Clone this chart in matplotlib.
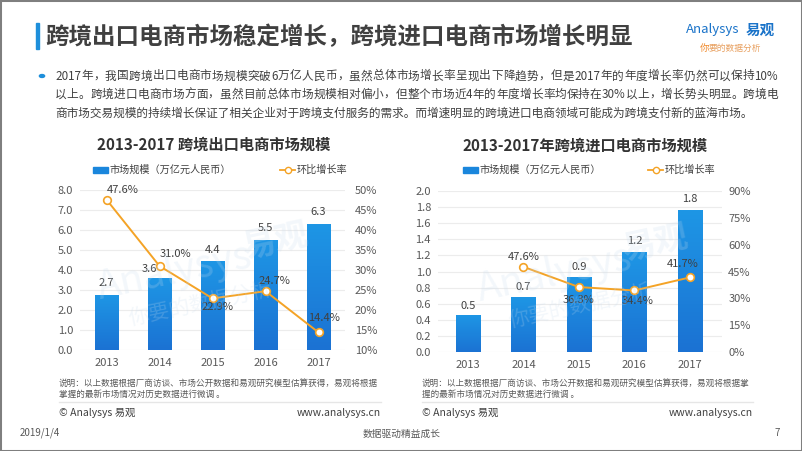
import matplotlib
matplotlib.use('Agg')
import matplotlib.pyplot as plt
import numpy as np
from matplotlib.patches import Rectangle
from matplotlib.lines import Line2D
from matplotlib.colors import LinearSegmentedColormap

plt.rcParams['font.family'] = ['Noto Sans CJK SC', 'DejaVu Sans']

# ---------------- data ----------------
years = ['2013', '2014', '2015', '2016', '2017']
export_scale = [2.73, 3.58, 4.40, 5.49, 6.28]          # 万亿元人民币
export_growth = [47.6, 31.0, 22.9, 24.7, 14.4]          # %
import_scale = [0.457, 0.675, 0.92, 1.24, 1.76]         # 万亿元人民币
import_growth = [np.nan, 47.6, 36.3, 34.4, 41.7]        # %

export_left_ticks = [0, 1, 2, 3, 4, 5, 6, 7, 8]
export_right_ticks = [10, 15, 20, 25, 30, 35, 40, 45, 50]
import_left_ticks = [0.0, 0.2, 0.4, 0.6, 0.8, 1.0, 1.2, 1.4, 1.6, 1.8, 2.0]
import_right_ticks = [0, 15, 30, 45, 60, 75, 90]

page_title = '跨境出口电商市场稳定增长，跨境进口电商市场增长明显'
para_lines = [
    '2017年，我国跨境出口电商市场规模突破6万亿人民币，虽然总体市场增长率呈现出下降趋势，但是2017年的年度增长率仍然可以保持10%',
    '以上。跨境进口电商市场方面，虽然目前总体市场规模相对偏小，但整个市场近4年的年度增长率均保持在30%以上，增长势头明显。跨境电',
    '商市场交易规模的持续增长保证了相关企业对于跨境支付服务的需求。而增速明显的跨境进口电商领域可能成为跨境支付新的蓝海市场。',
]
title_left = '2013-2017 跨境出口电商市场规模'
title_right = '2013-2017年跨境进口电商市场规模'
legend_bar = '市场规模（万亿元人民币）'
legend_line = '环比增长率'
note_left = ['说明：以上数据根据厂商访谈、市场公开数据和易观研究模型估算获得，易观将根据',
             '掌握的最新市场情况对历史数据进行微调 。']
note_right = ['说明：以上数据根据厂商访谈、市场公开数据和易观研究模型估算获得，易观将根据掌',
              '握的最新市场情况对历史数据进行微调 。']

# ---------------- style ----------------
W, H = 802, 451
BLUE = '#1a86dc'
ORANGE = '#f4a326'
DARK = '#404040'
GRAY = '#595959'
grad_cmap = LinearSegmentedColormap.from_list('g', ['#1e96e5', '#1b72d3'])

fig = plt.figure(figsize=(W / 100, H / 100), dpi=100)
renderer = fig.canvas.get_renderer()


def fx(x):
    return x / W


def fy(y):
    return 1 - y / H


# border
fig.patches.append(Rectangle((0, 0), 1, 1, transform=fig.transFigure, fill=False,
                             edgecolor='#7f7f7f', lw=2.2))

# page title
fig.patches.append(Rectangle((fx(36), fy(49)), 3 / W, 26 / H, transform=fig.transFigure,
                             color='#1e8fdb'))
fig.text(fx(45), fy(37), page_title, fontsize=16.9, fontweight='bold', color=DARK, va='center')

# logo
fig.text(fx(686), fy(30), 'Analysys', fontsize=9.5, color='#1a73c9', va='center', style='italic')
fig.text(fx(746), fy(30), '易观', fontsize=10.5, color='#1a73c9', va='center', fontweight='bold')
fig.text(fx(700), fy(48), '你', fontsize=7, color='#f08a2c', va='center', style='italic')
fig.text(fx(709), fy(48), '要的数据分析', fontsize=6.3, color='#e8a060', va='center', style='italic')

# paragraph
fig.patches.append(plt.Circle((fx(42), fy(76)), 2.6 / W, transform=fig.transFigure, color='#1e8fdb'))


def tokens(s):
    out = []
    cur = ''
    for c in s:
        if ord(c) < 128:
            cur += c
        else:
            if cur:
                out.append(cur)
                cur = ''
            out.append(c)
    if cur:
        out.append(cur)
    return out


def justified(s, x0, x1, y, **kw):
    toks = tokens(s)
    ts = [fig.text(fx(x0), fy(y), tk, va='center', **kw) for tk in toks]
    ws = [t.get_window_extent(renderer).width for t in ts]
    gap = (x1 - x0 - sum(ws)) / (len(ts) - 1)
    x = x0
    for t, w in zip(ts, ws):
        t.set_x(fx(x))
        x += w + gap


para_y = [76, 94.5, 113]
pkw = dict(fontsize=8.4, color=DARK)
justified(para_lines[0], 55, 778, para_y[0], **pkw)
justified(para_lines[1], 55, 778, para_y[1], **pkw)
fig.text(fx(55), fy(para_y[2]), para_lines[2], va='center', **pkw)


def legend(x_rect, x_line, y):
    fig.patches.append(Rectangle((fx(x_rect), fy(y + 3)), 15 / W, 6 / H,
                                 transform=fig.transFigure, color=BLUE))
    fig.text(fx(x_rect + 17), fy(y), legend_bar, fontsize=7.3, color=DARK, va='center')
    fig.add_artist(Line2D([fx(x_line), fx(x_line + 15)], [fy(y), fy(y)],
                          transform=fig.transFigure, color=ORANGE, lw=1.3))
    fig.add_artist(Line2D([fx(x_line + 7.5)], [fy(y)], transform=fig.transFigure,
                          marker='o', ms=4.5, mfc='white', mec=ORANGE, mew=1.0, lw=0))
    fig.text(fx(x_line + 17), fy(y), legend_line, fontsize=7.3, color=DARK, va='center')


def watermark(cx, cy):
    kw = dict(color='#c9dced', alpha=0.22, rotation=12, ha='center', va='center',
              transform=fig.transFigure, zorder=10)
    fig.text(fx(cx), fy(cy), 'Analysys', fontsize=28, style='italic', **kw)
    fig.text(fx(cx + 100), fy(cy - 30), '易观', fontsize=24, fontweight='bold', **kw)
    fig.text(fx(cx + 25), fy(cy + 32), '你要的数据分析', fontsize=15, **kw)


def chart(box, scale, growth, xlim, ylim, lticks, lfmt, rlim, rticks,
          bar_off, rate_off, lpad, rpad):
    l, t, r, b = box
    ax = fig.add_axes([fx(l), fy(b), (r - l) / W, (b - t) / H])
    x = np.arange(len(years))
    bars = ax.bar(x, scale, width=0.44, color='none', zorder=2)
    grad = np.linspace(0, 1, 100).reshape(-1, 1)
    for bar in bars:
        bx, by = bar.get_x(), bar.get_y()
        bw, bh = bar.get_width(), bar.get_height()
        ax.imshow(grad, extent=[bx, bx + bw, by, by + bh], aspect='auto',
                  cmap=grad_cmap, zorder=2, origin='upper')
    for i, v in enumerate(scale):
        dx, dy = bar_off[i]
        ax.annotate(f'{v:.1f}', (x[i], v), xytext=(dx, dy), textcoords='offset pixels',
                    ha='center', va='center', fontsize=8, color=DARK, zorder=5)
    ax.set_xlim(*xlim)
    ax.set_ylim(*ylim)
    ax.set_yticks(lticks)
    ax.set_yticklabels([lfmt.format(v) for v in lticks])
    ax.set_xticks(x)
    ax.set_xticklabels(years)
    ax.grid(axis='y', color='#ececec', lw=0.8)
    ax.set_axisbelow(True)
    for s in ax.spines.values():
        s.set_visible(False)
    ax.tick_params(axis='both', length=0, labelsize=8, labelcolor=GRAY)
    ax.tick_params(axis='y', pad=lpad)
    ax.tick_params(axis='x', pad=5.5)

    ax2 = ax.twinx()
    ax2.plot(x, growth, color=ORANGE, lw=1.4, marker='o', ms=5.5, mfc='white',
             mec=ORANGE, mew=1.2, zorder=3)
    for i, v in enumerate(growth):
        if np.isnan(v):
            continue
        dx, dy = rate_off[i]
        ax2.annotate(f'{v:.1f}%', (x[i], v), xytext=(dx, dy), textcoords='offset pixels',
                     ha='center', va='center', fontsize=8, color=DARK, zorder=5)
    ax2.set_ylim(*rlim)
    ax2.set_yticks(rticks)
    ax2.set_yticklabels([f'{v}%' for v in rticks])
    for s in ax2.spines.values():
        s.set_visible(False)
    ax2.tick_params(axis='y', length=0, labelsize=8, labelcolor=GRAY, pad=rpad)
    ax2.set_xlim(*xlim)
    return ax, ax2


# left chart
fig.text(fx(214), fy(145), title_left, fontsize=11, fontweight='bold', color='#333333',
         ha='center', va='center')
legend(93, 280, 170)
chart((80, 190, 345, 350), export_scale, export_growth, (-0.5, 4.5), (0, 8),
      export_left_ticks, '{:.1f}', (10, 50), export_right_ticks,
      bar_off=[(0, 12), (-10, 9), (0, 12), (0, 12), (0, 12)],
      rate_off=[(16, 10), (16, 12), (5, -9), (9, 10), (6, 14)],
      lpad=5, rpad=7)

# right chart
fig.text(fx(585), fy(146), title_right, fontsize=11, fontweight='bold', color='#333333',
         ha='center', va='center')
legend(463, 648, 170)
chart((438, 191, 722, 352), import_scale, import_growth, (-0.54, 4.58), (0, 2.0),
      import_left_ticks, '{:.1f}', (0, 90), import_right_ticks,
      bar_off=[(0, 9), (0, 11), (0, 11), (0, 11), (0, 11)],
      rate_off=[(0, 0), (0, 10), (0, -13), (3, -11), (-7, 13)],
      lpad=5, rpad=4.5)

watermark(175, 272)
watermark(555, 274)

# notes and source lines
for xs, lines, (sx0, sx1) in [(59, note_left, (59, 381)), (422, note_right, (422, 753))]:
    fig.text(fx(xs), fy(383), lines[0], fontsize=6.2, color=GRAY, va='center')
    fig.text(fx(xs), fy(394), lines[1], fontsize=6.2, color=GRAY, va='center')
    fig.add_artist(Line2D([fx(sx0), fx(sx1)], [fy(402), fy(402)], transform=fig.transFigure,
                          color='#e6e6e6', lw=1))
    fig.text(fx(sx0), fy(413), '© Analysys 易观', fontsize=7.5, color=DARK, va='center')
    fig.text(fx(sx1), fy(413), 'www.analysys.cn', fontsize=7.5, color=DARK, va='center', ha='right')

# page footer
fig.text(fx(20), fy(433), '2019/1/4', fontsize=7, color=GRAY, va='center')
fig.text(fx(402), fy(434), '数据驱动精益成长', fontsize=7, color=GRAY, va='center', ha='center')
fig.text(fx(780), fy(433), '7', fontsize=7, color=GRAY, va='center', ha='right')

fig.savefig('out.png', dpi=100)
